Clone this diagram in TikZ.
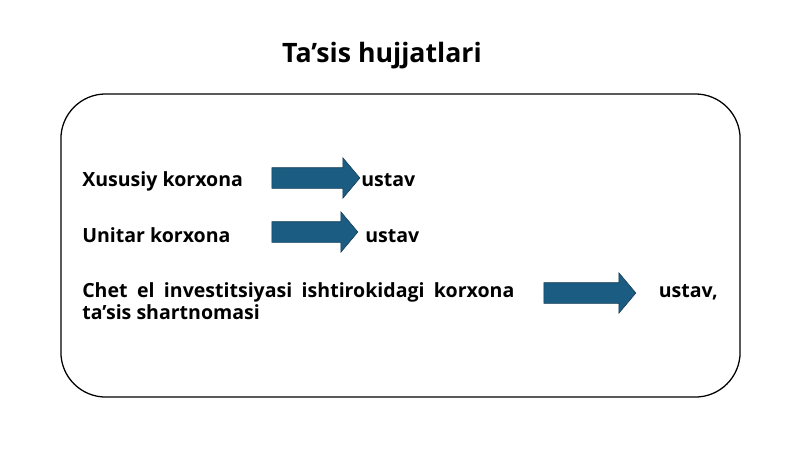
\documentclass[tikz,border=0pt]{standalone}
\usepackage{fontspec}
\setmainfont{Open Sans}
\usetikzlibrary{shapes.arrows}
\definecolor{arrowblue}{RGB}{27,93,130}
\definecolor{arrowedge}{RGB}{18,58,82}
\begin{document}
\begin{tikzpicture}[
    x=0.025cm, y=-0.025cm,
    txt/.style={
        anchor=base west,
        inner sep=0pt,
        font=\bfseries\fontsize{13.9}{16}\selectfont
    },
    blockarrow/.style={
        single arrow,
        draw=arrowedge,
        fill=arrowblue,
        minimum width=1cm,
        single arrow head extend=0.25cm,
        single arrow tip angle=100,
        inner xsep=0pt,
        inner ysep=0.25cm
    }
]
\useasboundingbox (0,0) rectangle (800,449);

\node[font=\bfseries\fontsize{19}{22}\selectfont, anchor=base, inner sep=0pt] (title) at (382,62) {Ta’sis hujjatlari};
\node[draw, line width=0.9pt, rounded corners=1.12cm, minimum width=16.975cm, minimum height=7.575cm] (frame) at (400.5,245.5) {};

\node[txt] (xususiy) at (82,186) {Xususiy korxona};
\node[blockarrow, minimum height=2.2cm] (arr1) at (311.5,178) {};
\node[txt] (ustav1) at (361,186) {ustav};

\node[txt] (unitar) at (82,242) {Unitar korxona};
\node[blockarrow, minimum height=2.15cm] (arr2) at (310.5,232) {};
\node[txt] (ustav2) at (365,242) {ustav};

\node[txt] (chet) at (82,297) {\makebox[10.8cm][s]{Chet el investitsiyasi ishtirokidagi korxona}};
\node[blockarrow, minimum height=2.3cm] (arr3) at (585.5,293) {};
\node[txt, anchor=base east] (ustav3) at (718,297) {ustav,};
\node[txt] (tasis) at (82,319) {ta’sis shartnomasi};

\end{tikzpicture}
\end{document}
